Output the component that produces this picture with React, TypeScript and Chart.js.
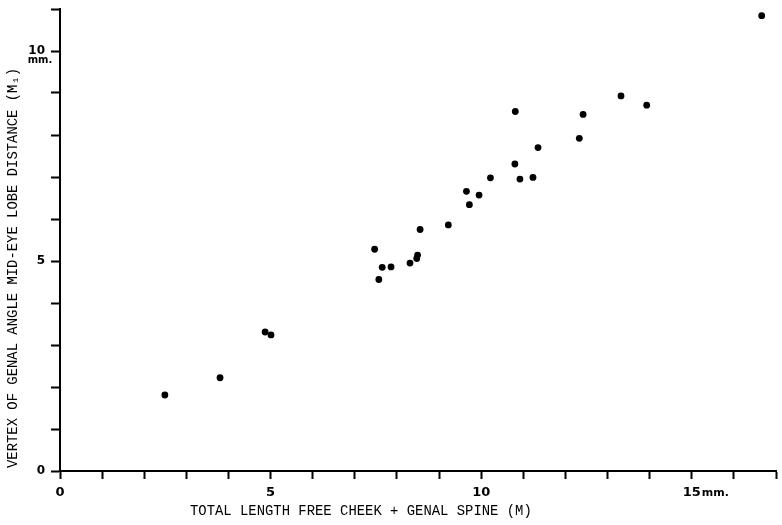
import React, { useEffect, useRef } from "react";
import { Chart, registerables } from "chart.js";

Chart.register(...registerables);

const cheekSpineLength: number[] = [
  2.49, 3.8, 4.87, 5.01, 7.47, 7.57, 7.65, 7.86, 8.31, 8.47, 8.49, 8.55, 9.22,
  9.65, 9.72, 9.95, 10.22, 10.81, 10.8, 10.92, 11.23, 11.35, 12.33, 12.42,
  13.32, 13.93, 16.66,
];
const genalEyeDistance: number[] = [
  1.81, 2.22, 3.31, 3.24, 5.28, 4.56, 4.85, 4.86, 4.95, 5.06, 5.14, 5.75, 5.86,
  6.66, 6.34, 6.57, 6.98, 8.56, 7.31, 6.95, 6.99, 7.7, 7.92, 8.49, 8.93, 8.71,
  10.84,
];
const xLabelled: number[] = [0, 5, 10, 15];
const yLabelled: number[] = [0, 5, 10];
const xTitle = "TOTAL LENGTH FREE CHEEK + GENAL SPINE (M)";
const yTitle = "VERTEX OF GENAL ANGLE MID-EYE LOBE DISTANCE (M\u2081)";
const unitText = "mm.";

const MONO = "'Liberation Mono', 'DejaVu Sans Mono', monospace";
const SANS = "'DejaVu Sans', sans-serif";

const annotations = {
  id: "annotations",
  afterDraw(chart: any) {
    const ctx = chart.ctx as CanvasRenderingContext2D;
    const xs = chart.scales.x;
    const ys = chart.scales.y;
    ctx.save();
    ctx.fillStyle = "#000";
    // x title
    ctx.font = `13.9px ${MONO}`;
    ctx.textAlign = "left";
    ctx.textBaseline = "middle";
    ctx.fillText(xTitle, 190, 511);
    // y title
    ctx.save();
    ctx.translate(13, 468);
    ctx.rotate(-Math.PI / 2);
    ctx.textAlign = "left";
    ctx.textBaseline = "middle";
    ctx.fillText(yTitle, 0, 0);
    ctx.restore();
    // mm. units
    ctx.font = `bold 11px ${SANS}`;
    ctx.textAlign = "left";
    ctx.textBaseline = "middle";
    const x15 = xs.getPixelForValue(15);
    ctx.fillText(unitText, x15 + 10, 493);
    ctx.textAlign = "center";
    const y10 = ys.getPixelForValue(10);
    ctx.font = `bold 10px ${SANS}`;
    ctx.fillText(unitText, 40, y10 + 9);
    ctx.restore();
  },
};

export default function App() {
  const canvasRef = useRef<HTMLCanvasElement | null>(null);

  useEffect(() => {
    document.body.style.margin = "0";
    const canvas = canvasRef.current;
    if (!canvas) return;
    const data = cheekSpineLength.map((x, i) => ({ x, y: genalEyeDistance[i] }));
    const chart = new Chart(canvas, {
      type: "scatter",
      data: {
        datasets: [
          {
            data,
            backgroundColor: "#000",
            borderColor: "#000",
            pointRadius: 3.4,
            pointBorderWidth: 0,
          },
        ],
      },
      options: {
        animation: false,
        responsive: false,
        devicePixelRatio: 1,
        layout: { padding: { top: 9, right: 6, left: 0, bottom: 0 } },
        plugins: {
          legend: { display: false },
          tooltip: { enabled: false },
        },
        scales: {
          x: {
            type: "linear",
            min: 0,
            max: 17,
            afterFit: (scale: any) => {
              scale.height = 54;
              scale.paddingLeft = 0;
              scale.paddingRight = 0;
            },
            border: { display: true, color: "#000", width: 2 },
            grid: {
              drawOnChartArea: false,
              drawTicks: true,
              tickLength: 8,
              tickWidth: 2,
              tickColor: "#000",
              color: "#000",
            },
            ticks: {
              stepSize: 1,
              autoSkip: false,
              maxRotation: 0,
              padding: 6,
              color: "#000",
              font: { family: SANS, size: 13, weight: "bold" },
              callback: (v: any) => (xLabelled.includes(Number(v)) ? String(v) : ""),
            },
          },
          y: {
            type: "linear",
            min: 0,
            max: 11,
            afterFit: (scale: any) => {
              scale.width = 60;
              scale.paddingTop = 0;
              scale.paddingBottom = 0;
            },
            border: { display: true, color: "#000", width: 2 },
            grid: {
              drawOnChartArea: false,
              drawTicks: true,
              tickLength: 9,
              tickWidth: 2,
              tickColor: "#000",
              color: "#000",
            },
            ticks: {
              stepSize: 1,
              autoSkip: false,
              padding: 6,
              color: "#000",
              font: { family: SANS, size: 12, weight: "bold" },
              callback: (v: any) => (yLabelled.includes(Number(v)) ? String(v) : ""),
            },
          },
        },
      },
      plugins: [annotations],
    } as any);
    return () => chart.destroy();
  }, []);

  return (
    <div style={{ width: 782, height: 525, background: "#fff" }}>
      <canvas ref={canvasRef} width={782} height={525} style={{ display: "block" }} />
    </div>
  );
}
